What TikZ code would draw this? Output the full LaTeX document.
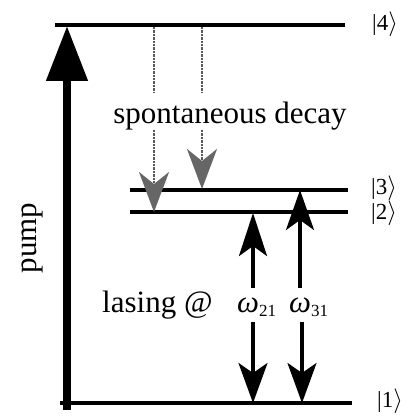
\documentclass[tikz,border=0pt]{standalone}
\usepackage{fontspec}
\setmainfont{Liberation Serif}
\usetikzlibrary{arrows.meta}
\begin{document}
\begin{tikzpicture}[x=1pt,y=-1pt,
  level/.style={line width=3.2pt},
  lbl/.style={font=\fontsize{31}{31}\selectfont, inner sep=0pt, anchor=base},
  ket/.style={font=\fontsize{23}{23}\selectfont, inner sep=0pt, anchor=west},
  las/.style={line width=3.2pt},
  decay/.style={line width=2.4pt, densely dotted, draw=black!65},
  dhead/.style={-{Stealth[length=40pt,width=30pt,inset=12pt,color=black!60]}}
]
\useasboundingbox[fill=white] (0,0) rectangle (416,417);
% levels
\coordinate (L4a) at (55,25);  \coordinate (L4b) at (345,25);
\coordinate (L3a) at (130,190); \coordinate (L3b) at (348,190);
\coordinate (L2a) at (130,212); \coordinate (L2b) at (348,212);
\coordinate (L1a) at (60,403);  \coordinate (L1b) at (352,403);
\draw[level] (L4a) -- (L4b);
\draw[level] (L3a) -- (L3b);
\draw[level] (L2a) -- (L2b);
\draw[level] (L1a) -- (L1b);
% kets
\node[ket] (k4) at (372,24) {|4$\rangle$};
\node[ket] (k3) at (371,188) {|3$\rangle$};
\node[ket] (k2) at (371,213) {|2$\rangle$};
\node[ket] (k1) at (377,401) {|1$\rangle$};
% pump
\coordinate (pumpS) at (67,410);
\coordinate (pumpN) at (67,26);
\draw[line width=8pt, -{Triangle[length=55pt,width=40pt]}] (pumpS) -- (pumpN);
\node[lbl, anchor=center, rotate=90] (pump) at (32,238) {pump};
% spontaneous decay
\coordinate (d1a) at (154,27);  \coordinate (d1b) at (154,93);
\coordinate (d1c) at (154,130); \coordinate (d1d) at (154,212);
\coordinate (d2a) at (202,27);  \coordinate (d2b) at (202,93);
\coordinate (d2c) at (202,130); \coordinate (d2d) at (202,189);
\draw[decay] (d1a) -- (d1b);
\draw[decay] (d2a) -- (d2b);
\draw[decay, dhead] (d1c) -- (d1d);
\draw[decay, dhead] (d2c) -- (d2d);
\node[lbl] (sd) at (230,123) {spontaneous decay};
% lasing
\coordinate (a21t) at (253,213); \coordinate (a21m) at (253,288);
\coordinate (a21u) at (253,322); \coordinate (a21b) at (253,403);
\coordinate (a31t) at (300,190); \coordinate (a31m) at (300,288);
\coordinate (a31u) at (302,322); \coordinate (a31b) at (302,403);
\draw[las, -{Stealth[length=43pt,width=28pt,inset=10pt]}] (a21m) -- (a21t);
\draw[las, -{Stealth[length=40pt,width=28pt,inset=10pt]}] (a31m) -- (a31t);
\draw[las, -{Stealth[length=40pt,width=29pt,inset=10pt]}] (a21u) -- (a21b);
\draw[las, -{Stealth[length=40pt,width=29pt,inset=10pt]}] (a31u) -- (a31b);
\node[lbl, anchor=base west] (las) at (102,312) {lasing @};
\node[lbl, anchor=base west] (w21) at (237,312) {\textit{ω}\raisebox{-4pt}{\fontsize{17}{17}\selectfont 21}};
\node[lbl, anchor=base west] (w31) at (289,312) {\textit{ω}\raisebox{-4pt}{\fontsize{17}{17}\selectfont 31}};
\end{tikzpicture}
\end{document}
